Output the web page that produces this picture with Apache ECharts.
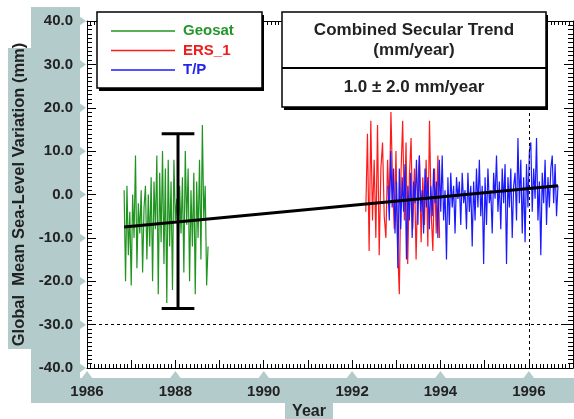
<!DOCTYPE html>
<html>
<head>
<meta charset="utf-8">
<script src="https://cdn.jsdelivr.net/npm/echarts@6/dist/echarts.min.js"></script>
<style>
html, body { margin: 0; padding: 0; background: #fff; }
#chart { width: 574px; height: 419px; }
</style>
</head>
<body>
<div id="chart"></div>
<script>
// tick positions
var yearTicks = [1986, 1988, 1990, 1992, 1994, 1996];
var levelTicks = [-40, -30, -20, -10, 0, 10, 20, 30, 40];

// Geosat
var geosatStart = 1986.84;
var geosatStep = 0.0322;
var geosatValues = [1, -20, 2, -14, -4, -21, 0, -10, 9, -17, -2, -9, 1, -18, -3, 2, -15, 0, -12, 4,
  -20, 3, -8, 9, -23, 5, -11, 10, -16, 6, -25, 8, -12, 3, -22, 8, -6, -1, -14, 2,
  -9, 4, -18, 10, -7, 6, -20, 1, -12, 5, -23, 3, -10, 8, -15, 16, -6, 2, -21, -12];

// ERS_1
var ersStart = 1992.31;
var ersStep = 0.03795;
var ersValues = [-4, 14, -13, 17, -6, 8, -10, 16, -14, 6, 12, -5, -10, 8, -3, 19, 2, -8, 10, -12,
  -23, 5, 17, -6, 12, -16, 4, 13, -8, 6, -15, 2, 9, -11, 4, -7, 8, -12, 17, -4,
  -13, 6, -9, 9, -10];

// T/P (10-day cycles)
var tpStart = 1992.81;
var tpStep = 0.03235;
var tpValues = [2, -6, 10, -3, 6, -9, 3, -17, 6, -8, 4, -4, 7, -15, 2, -6, 5, -10, 3, -2,
  8, -7, 9, -4, 1, -9, 6, -3, 4, -8, 2, -5, 6, -2, 3, -10, 8, -4, 9, -6,
  1, -15, 4, -7, 5, -3, 2, -9, 4, -1, 3, -7, 5, -2, 1, -8, 5, -4, 2, -12,
  3, -6, 6, -3, 8, -5, 2, -16, 4, -7, 6, -2, 1, -9, 5, -1, 9, -4, 3, -8,
  6, -2, 7, -16, 4, -3, 6, -10, 2, 5, -6, 13, -2, 8, -9, 4, -11, 7, -3, 10,
  12, -4, 6, -1, 13, -6, 3, -14, 5, -2, 8, -7, 4, -3, 6, 9, -2, 7, -5, 2];

// combined secular trend and error bar
var trendYears = [1986.84, 1996.66];
var trendValues = [-7.5, 2.0];
var errorBar = [1988.06, -26.3, 14.0];
var errorCap = 0.37;

var FONT = '"Liberation Sans", Arial, Helvetica, sans-serif';
var TEAL = '#b3cbcb';
var INK = '#222';
var GREEN = '#1f951f';
var RED = '#ff1a1a';
var BLUE = '#1a1aff';

function pairs(start, step, values) {
  var out = [];
  for (var i = 0; i < values.length; i++) {
    out.push([start + i * step, values[i]]);
  }
  return out;
}

var trendData = [];
for (var i = 0; i < trendYears.length; i++) {
  trendData.push([trendYears[i], trendValues[i]]);
}

function legendItem(name, color, textColor) {
  return {
    name: name,
    itemStyle: { color: color, borderWidth: 0 },
    lineStyle: { color: color, width: 1.2 },
    textStyle: { color: textColor }
  };
}

var chart = echarts.init(document.getElementById('chart'));

var tickStyle = { color: '#000', width: 1 };

chart.setOption({
  animation: false,
  backgroundColor: '#fff',
  grid: { left: 87, right: 1, top: 21, bottom: 51, containLabel: false, outerBoundsMode: 'none' },
  legend: {
    z: 20,
    orient: 'vertical',
    left: 111,
    top: 23.5,
    itemWidth: 64,
    itemHeight: 1.5,
    itemGap: 4.5,
    padding: 0,
    icon: 'rect',
    itemStyle: { borderWidth: 0 },
    data: [
      legendItem('Geosat', GREEN, '#24962a'),
      legendItem('ERS_1', RED, '#f01c1c'),
      legendItem('T/P', BLUE, '#2323f0')
    ],
    textStyle: { fontFamily: FONT, fontWeight: 'bold', fontSize: 15, padding: [0, 0, 0, 3] }
  },
  xAxis: [
    {
      type: 'value', min: 1986, max: 1997, interval: 1, position: 'bottom',
      axisLine: { show: true, onZero: false, lineStyle: tickStyle },
      axisTick: { inside: true, length: 8, lineStyle: tickStyle },
      minorTick: { show: true, splitNumber: 12, length: 4, lineStyle: tickStyle },
      splitLine: { show: false },
      axisLabel: {
        margin: 16, color: INK, fontFamily: FONT, fontWeight: 'bold', fontSize: 15,
        formatter: function(v) { return v % 2 === 0 ? String(v) : ''; }
      },
      name: 'Year', nameLocation: 'middle', nameGap: 33,
      nameTextStyle: { color: INK, fontFamily: FONT, fontWeight: 'bold', fontSize: 16, padding: [0, 42, 0, 0] }
    },
    {
      type: 'value', min: 1986, max: 1997, interval: 1, position: 'top',
      axisLine: { show: true, onZero: false, lineStyle: tickStyle },
      axisTick: { inside: true, length: 8, lineStyle: tickStyle },
      minorTick: { show: true, splitNumber: 12, length: 4, lineStyle: tickStyle },
      splitLine: { show: false },
      axisLabel: { show: false }
    }
  ],
  yAxis: [
    {
      type: 'value', min: -40, max: 40, interval: 10, position: 'left',
      axisLine: { show: true, onZero: false, lineStyle: tickStyle },
      axisTick: { inside: true, length: 9, lineStyle: tickStyle },
      minorTick: { show: true, splitNumber: 10, length: 5, lineStyle: tickStyle },
      splitLine: { show: false },
      axisLabel: {
        margin: 14, color: INK, fontFamily: FONT, fontWeight: 'bold', fontSize: 15,
        formatter: function(v) { return v.toFixed(1); }
      },
      name: 'Global  Mean Sea-Level Variation (mm)', nameLocation: 'middle', nameGap: 59,
      nameTextStyle: { color: INK, fontFamily: FONT, fontWeight: 'bold', fontSize: 16.5 }
    },
    {
      type: 'value', min: -40, max: 40, interval: 10, position: 'right',
      axisLine: { show: true, onZero: false, lineStyle: tickStyle },
      axisTick: { inside: true, length: 9, lineStyle: tickStyle },
      minorTick: { show: true, splitNumber: 10, length: 5, lineStyle: tickStyle },
      splitLine: { show: false },
      axisLabel: { show: false }
    }
  ],
  series: [
    {
      name: 'Geosat', type: 'line', symbol: 'none', data: pairs(geosatStart, geosatStep, geosatValues),
      lineStyle: { color: GREEN, width: 1.2 }, itemStyle: { color: GREEN }
    },
    {
      name: 'ERS_1', type: 'line', symbol: 'none', data: pairs(ersStart, ersStep, ersValues),
      lineStyle: { color: RED, width: 1.2 }, itemStyle: { color: RED }
    },
    {
      name: 'T/P', type: 'line', symbol: 'none', data: pairs(tpStart, tpStep, tpValues),
      lineStyle: { color: BLUE, width: 1.2 }, itemStyle: { color: BLUE }
    },
    {
      name: 'trend', type: 'line', symbol: 'none', data: trendData, z: 5,
      lineStyle: { color: '#000', width: 3 },
      markLine: {
        silent: true, symbol: 'none', label: { show: false },
        lineStyle: { color: '#000', width: 1, type: [3, 3] },
        data: [{ yAxis: -30 }, { xAxis: 1996 }]
      }
    },
    {
      name: 'error', type: 'custom', z: 5, data: [errorBar],
      encode: { x: 0, y: [1, 2] },
      renderItem: function(params, api) {
        var x = api.value(0);
        var top = api.coord([x, api.value(2)]);
        var bot = api.coord([x, api.value(1)]);
        var l = api.coord([x - errorCap, api.value(2)])[0];
        var r = api.coord([x + errorCap, api.value(2)])[0];
        var st = { stroke: '#000', lineWidth: 3 };
        return {
          type: 'group',
          children: [
            { type: 'line', shape: { x1: top[0], y1: top[1], x2: bot[0], y2: bot[1] }, style: st },
            { type: 'line', shape: { x1: l, y1: top[1], x2: r, y2: top[1] }, style: st },
            { type: 'line', shape: { x1: l, y1: bot[1], x2: r, y2: bot[1] }, style: st }
          ]
        };
      }
    }
  ]
});

function buildGraphic() {
  var g = [];
  // label panels
  g.push({ type: 'rect', z: -1, shape: { x: 31, y: 7, width: 49, height: 396 }, style: { fill: TEAL } });
  g.push({ type: 'rect', z: -1, shape: { x: 8, y: 48, width: 24, height: 301 }, style: { fill: TEAL } });
  g.push({ type: 'rect', z: -1, shape: { x: 31, y: 378, width: 543, height: 25 }, style: { fill: TEAL } });
  g.push({ type: 'rect', z: -1, shape: { x: 285, y: 402, width: 48, height: 17 }, style: { fill: TEAL } });
  // pointers to ticks
  levelTicks.forEach(function(v) {
    var y = chart.convertToPixel({ yAxisIndex: 0 }, v);
    g.push({ type: 'polygon', z: -1, shape: { points: [[79, y - 5], [86, y], [79, y + 5]] }, style: { fill: TEAL } });
  });
  yearTicks.forEach(function(v) {
    var x = chart.convertToPixel({ xAxisIndex: 0 }, v);
    g.push({ type: 'polygon', z: -1, shape: { points: [[x - 6, 379], [x, 371], [x + 6, 379]] }, style: { fill: TEAL } });
  });
  // legend box
  g.push({ type: 'rect', z: 10, shape: { x: 99, y: 15, width: 165, height: 76 }, style: { fill: '#000' } });
  g.push({ type: 'rect', z: 11, shape: { x: 97, y: 12, width: 165, height: 76 }, style: { fill: '#fff', stroke: '#000', lineWidth: 1.5 } });
  // trend box
  g.push({ type: 'rect', z: 10, shape: { x: 284, y: 15, width: 264, height: 95 }, style: { fill: '#000' } });
  g.push({ type: 'rect', z: 11, shape: { x: 282, y: 12, width: 264, height: 95 }, style: { fill: '#fff', stroke: '#000', lineWidth: 1.5 } });
  g.push({ type: 'line', z: 12, shape: { x1: 282, y1: 68, x2: 546, y2: 68 }, style: { stroke: '#000', lineWidth: 2 } });
  var tStyle = { fill: INK, font: 'bold 17px ' + FONT, textAlign: 'center', textVerticalAlign: 'middle' };
  g.push({ type: 'text', z: 13, x: 414, y: 30, style: Object.assign({ text: 'Combined Secular Trend' }, tStyle) });
  g.push({ type: 'text', z: 13, x: 414, y: 50, style: Object.assign({ text: '(mm/year)' }, tStyle) });
  g.push({ type: 'text', z: 13, x: 414, y: 87, style: Object.assign({ text: '1.0 ± 2.0 mm/year' }, tStyle) });
  return g;
}

chart.setOption({ graphic: buildGraphic() });
</script>
</body>
</html>
